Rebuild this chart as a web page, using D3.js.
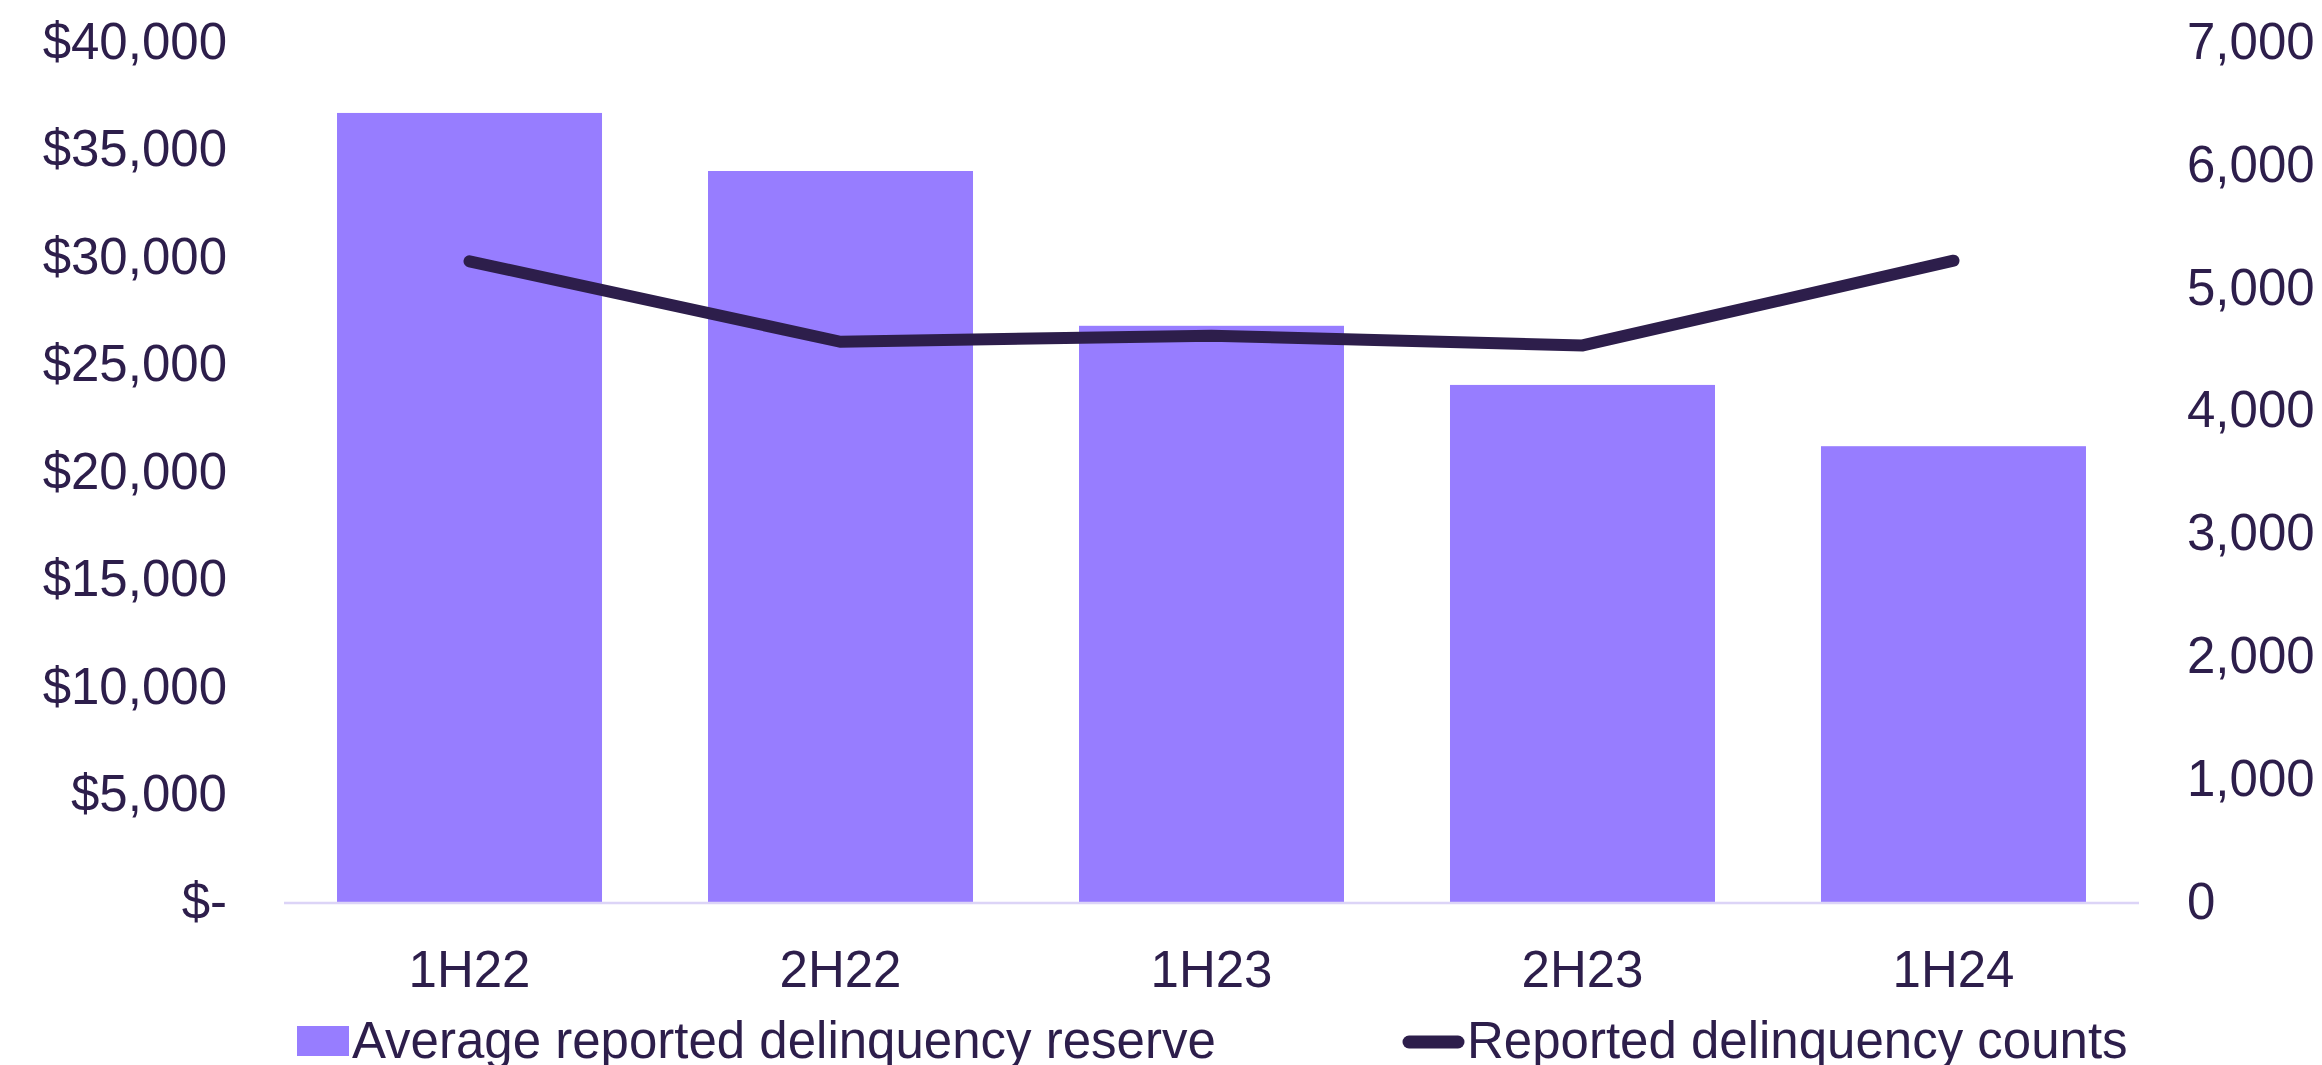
<!DOCTYPE html>
<html>
<head>
<meta charset="utf-8">
<script src="https://cdn.jsdelivr.net/npm/d3@7"></script>
<style>
  html, body { margin: 0; padding: 0; background: #ffffff; overflow: hidden; }
  svg { display: block; }
  text { font-family: "Liberation Sans", Arial, sans-serif; fill: #2d1e4b; }
</style>
</head>
<body>
<svg id="chart" width="2322" height="1065"></svg>
<script>
const categories = ["1H22", "2H22", "1H23", "2H23", "1H24"];
const reserveValues = [36700, 34000, 26800, 24050, 21200];
const countValues = [5215, 4560, 4610, 4530, 5220];
const leftTicks = [0, 5000, 10000, 15000, 20000, 25000, 30000, 35000, 40000];
const leftTickLabels = ["$-", "$5,000", "$10,000", "$15,000", "$20,000", "$25,000", "$30,000", "$35,000", "$40,000"];
const rightTicks = [0, 1000, 2000, 3000, 4000, 5000, 6000, 7000];
const rightTickLabels = ["0", "1,000", "2,000", "3,000", "4,000", "5,000", "6,000", "7,000"];
const seriesNames = ["Average reported delinquency reserve", "Reported delinquency counts"];

const barColor = "#977dff";
const lineColor = "#2d1e4b";
const axisColor = "#dcd4f7";
const fontSize = 51;

const svg = d3.select("#chart");
const plot = { left: 284, right: 2139, top: 42, bottom: 902 };

const x = d3.scaleBand().domain(categories).range([plot.left, plot.right])
  .paddingInner(0.2857).paddingOuter(0.1429);
const yL = d3.scaleLinear().domain([0, 40000]).range([plot.bottom, plot.top]);
const yR = d3.scaleLinear().domain([0, 7000]).range([plot.bottom, plot.top]);

// bars
svg.append("g").selectAll("rect").data(categories).join("rect")
  .attr("x", d => x(d))
  .attr("width", x.bandwidth())
  .attr("y", (d, i) => yL(reserveValues[i]))
  .attr("height", (d, i) => yL(0) - yL(reserveValues[i]))
  .attr("fill", barColor);

// baseline
svg.append("line")
  .attr("x1", plot.left).attr("x2", plot.right)
  .attr("y1", yL(0) + 1).attr("y2", yL(0) + 1)
  .attr("stroke", axisColor).attr("stroke-width", 2.5);

// left axis
const gL = svg.append("g").attr("transform", `translate(${plot.left},0)`)
  .call(d3.axisLeft(yL).tickValues(leftTicks).tickSize(0).tickPadding(57)
    .tickFormat((d, i) => leftTickLabels[i]));
gL.select(".domain").remove();
gL.selectAll("text").style("font-size", fontSize + "px").style("font-family", null).attr("fill", lineColor);

// right axis
const gR = svg.append("g").attr("transform", `translate(${plot.right},0)`)
  .call(d3.axisRight(yR).tickValues(rightTicks).tickSize(0).tickPadding(48)
    .tickFormat((d, i) => rightTickLabels[i]));
gR.select(".domain").remove();
gR.selectAll("text").style("font-size", fontSize + "px").style("font-family", null).attr("fill", lineColor);

// x axis
const gX = svg.append("g").attr("transform", `translate(0,${plot.bottom})`)
  .call(d3.axisBottom(x).tickSize(0).tickPadding(49));
gX.select(".domain").remove();
gX.selectAll("text").style("font-size", fontSize + "px").style("font-family", null).attr("fill", lineColor);

// line
const line = d3.line()
  .x((d, i) => x(categories[i]) + x.bandwidth() / 2)
  .y(d => yR(d));
svg.append("path").datum(countValues)
  .attr("d", line)
  .attr("fill", "none")
  .attr("stroke", lineColor)
  .attr("stroke-width", 12)
  .attr("stroke-linecap", "round")
  .attr("stroke-linejoin", "miter");

// legend
const legendY = 1058;
const lg = svg.append("g");
lg.append("rect").attr("x", 297).attr("y", 1026).attr("width", 52).attr("height", 30).attr("fill", barColor);
lg.append("text").attr("x", 352).attr("y", legendY).style("font-size", fontSize + "px").text(seriesNames[0]);
lg.append("line").attr("x1", 1409).attr("x2", 1458).attr("y1", 1042).attr("y2", 1042)
  .attr("stroke", lineColor).attr("stroke-width", 13).attr("stroke-linecap", "round");
lg.append("text").attr("x", 1467).attr("y", legendY).style("font-size", fontSize + "px").text(seriesNames[1]);
</script>
</body>
</html>
